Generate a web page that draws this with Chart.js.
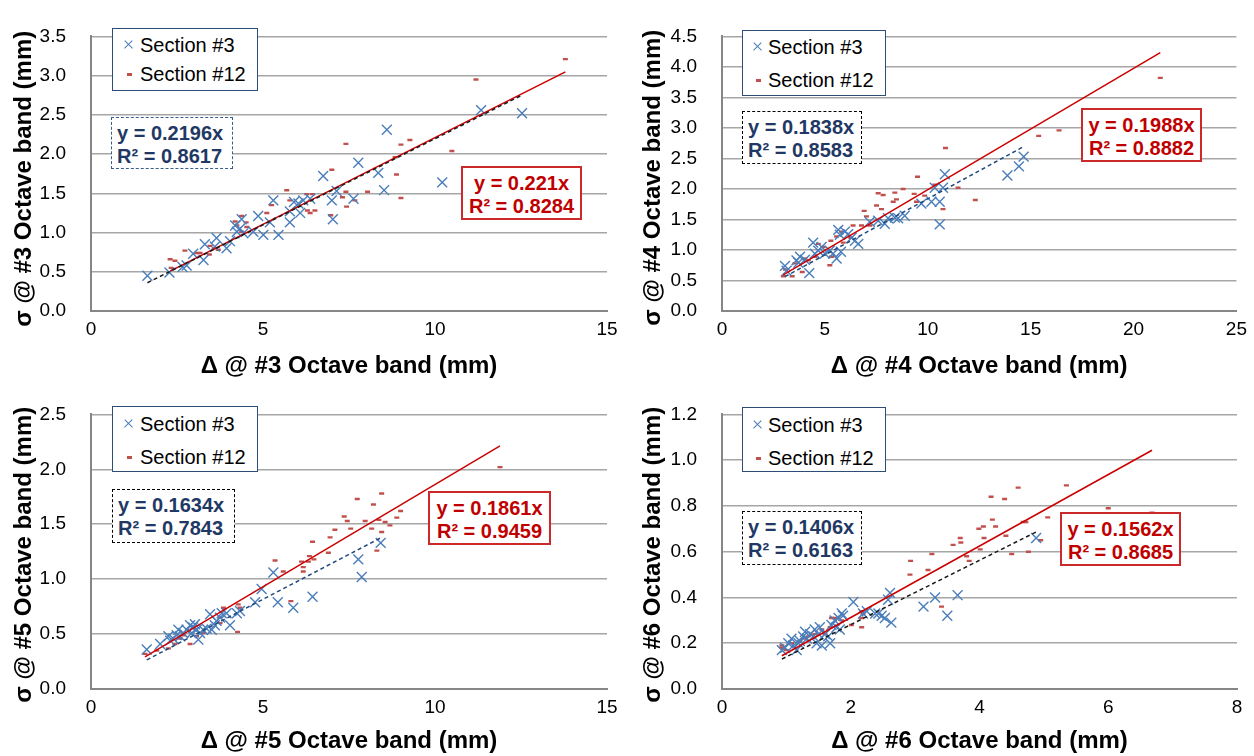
<!DOCTYPE html>
<html><head><meta charset="utf-8">
<script src="https://cdn.jsdelivr.net/npm/chart.js@4.4.1/dist/chart.umd.min.js"></script>
<style>
html,body{margin:0;padding:0;background:#fff}
body{width:1254px;height:756px;overflow:hidden;position:relative;font-family:"Liberation Sans",Arial,sans-serif}
canvas{position:absolute}
.leg{position:absolute;border:1.5px solid #2c4d75;background:#fff;box-sizing:border-box;z-index:5}
.leg .t{position:absolute;font-size:20px;line-height:22px;color:#000;white-space:nowrap}
.leg .cx{position:absolute;width:11px;height:1.4px;background:#4a7ebb}
.leg .dash{position:absolute;width:5px;height:2.5px;background:#c0504d}
.eq{position:absolute;box-sizing:border-box;font-weight:bold;font-size:20px;line-height:23px;white-space:nowrap;padding-top:4px;background:#fff;z-index:5}
.eq.b{border:1.5px dashed #000;color:#1f3864;padding-left:5px;text-align:left}
.eq.r{border:2px solid #cc2a2a;color:#c00000;text-align:center}
</style>
</head><body>
<canvas id="c0" width="627" height="378" style="left:0;top:0"></canvas>
<canvas id="c1" width="627" height="378" style="left:627px;top:0"></canvas>
<canvas id="c2" width="627" height="378" style="left:0;top:378px"></canvas>
<canvas id="c3" width="627" height="378" style="left:627px;top:378px"></canvas>
<script>
// ---------- data ----------
const bands = ['#3', '#4', '#5', '#6'];
const seriesNames = ['Section #3', 'Section #12'];

// Octave band #3
const b3s3X = [1.64,2.28,2.66,2.78,2.97,3.27,3.31,3.65,3.60,3.94,4.04,4.19,4.24,4.38,4.33,4.43,4.72,4.86,5.01,5.20,5.30,5.45,5.78,5.78,5.90,6.03,6.08,6.17,6.37,6.75,7.00,7.03,7.14,7.63,7.77,8.35,8.52,8.60,10.21,11.34,12.53];
const b3s3Y = [0.45,0.49,0.56,0.58,0.73,0.65,0.85,0.93,0.82,0.80,0.89,1.09,1.01,1.17,1.05,0.99,1.01,1.21,0.97,1.13,1.41,0.97,1.13,1.27,1.39,1.37,1.25,1.41,1.43,1.72,1.41,1.17,1.53,1.43,1.89,1.76,1.54,2.31,1.64,2.56,2.52];
const b3s12X = [2.30,2.44,2.33,2.73,3.07,3.17,3.46,3.44,3.58,3.70,4.19,4.24,4.38,4.51,4.53,4.38,5.11,5.25,5.69,5.78,6.27,6.29,6.51,6.37,6.44,7.00,6.97,7.41,7.41,7.31,7.43,7.67,8.04,8.84,8.88,9.01,9.27,9.01,10.49,11.63,11.19,13.79];
const b3s12Y = [0.66,0.64,0.55,0.77,0.74,0.74,0.83,0.72,0.80,0.78,1.14,1.09,1.21,1.13,1.07,1.01,1.25,1.35,1.54,1.41,1.49,1.28,1.28,1.25,1.49,1.80,1.22,2.13,1.52,1.45,1.33,1.41,1.52,1.96,1.74,2.12,2.18,1.44,2.04,1.82,2.95,3.21];

// Octave band #4
const b4s3X = [3.06,3.14,3.62,3.79,3.71,4.03,4.24,4.43,4.51,4.68,4.84,5.00,5.24,5.40,5.57,5.65,5.73,5.78,5.97,6.13,6.30,6.46,6.62,7.18,7.59,7.91,8.07,8.40,8.56,8.88,9.69,10.18,10.34,10.58,10.58,10.74,10.83,13.87,14.43,14.66];
const b4s3Y = [0.74,0.66,0.83,0.89,0.79,0.84,0.62,1.12,0.94,0.99,1.05,0.94,0.99,0.94,0.86,1.33,1.25,0.97,1.30,1.26,1.20,1.15,1.10,1.46,1.48,1.43,1.52,1.53,1.52,1.56,1.76,1.79,2.02,1.79,1.42,2.02,2.24,2.22,2.37,2.53];
const b4s12X = [2.98,3.09,3.41,3.54,3.90,4.03,4.19,4.51,4.68,4.92,5.24,5.29,5.32,5.57,5.81,5.89,6.26,6.37,6.78,6.91,7.02,7.18,7.51,7.59,7.75,7.83,8.32,8.40,8.48,8.80,9.34,9.45,9.50,9.85,10.34,10.74,10.86,11.47,12.31,15.39,16.38,21.30];
const b4s12Y = [0.57,0.68,0.57,0.78,0.64,0.86,0.83,0.89,1.10,1.05,0.75,1.15,0.89,1.22,1.30,1.12,1.20,1.40,1.40,1.64,1.55,1.40,1.73,1.93,1.67,1.90,1.79,1.94,1.83,2.00,1.92,1.79,2.20,1.89,2.07,1.67,2.67,2.02,1.82,2.87,2.96,3.82];

// Octave band #5
const b5s3X = [1.62,2.01,2.25,2.30,2.39,2.49,2.54,2.59,2.68,2.78,2.88,2.93,2.97,3.02,3.07,3.12,3.17,3.26,3.36,3.46,3.51,3.60,3.65,3.75,3.80,3.94,4.04,4.24,4.33,4.77,4.96,5.30,5.43,5.88,6.44,7.77,7.87,8.42];
const b5s3Y = [0.36,0.41,0.48,0.44,0.46,0.49,0.54,0.48,0.51,0.54,0.58,0.51,0.56,0.59,0.54,0.45,0.51,0.54,0.55,0.68,0.54,0.58,0.62,0.65,0.69,0.69,0.58,0.69,0.71,0.79,0.91,1.06,0.79,0.74,0.84,1.18,1.02,1.33];
const b5s12X = [1.57,1.91,2.25,2.44,2.59,2.68,2.88,3.07,3.26,3.75,3.85,3.75,4.28,4.33,4.26,5.35,5.59,5.81,6.12,6.17,6.17,6.35,6.44,6.48,6.32,6.90,6.95,7.09,7.36,7.45,7.55,7.74,7.97,8.16,8.21,8.37,8.45,8.45,8.31,8.55,8.69,8.89,9.00,11.89];
const b5s12Y = [0.32,0.35,0.37,0.41,0.46,0.49,0.41,0.48,0.51,0.65,0.74,0.60,0.77,0.74,0.52,1.17,1.07,0.80,1.16,1.11,1.07,1.21,1.34,1.18,1.16,1.24,1.38,1.45,1.57,1.53,1.46,1.73,1.53,1.46,1.68,1.54,1.78,1.43,1.26,1.52,1.49,1.56,1.62,2.02];

// Octave band #6
const b6s3X = [0.93,0.98,1.03,1.08,1.11,1.16,1.19,1.21,1.26,1.29,1.32,1.37,1.42,1.44,1.47,1.50,1.52,1.55,1.60,1.65,1.68,1.70,1.75,1.78,1.81,1.83,1.86,1.88,2.04,2.19,2.25,2.38,2.43,2.48,2.53,2.58,2.61,2.63,3.13,3.31,3.50,3.66,4.88];
const b6s3Y = [0.17,0.18,0.20,0.22,0.19,0.17,0.20,0.21,0.23,0.25,0.22,0.24,0.23,0.26,0.20,0.24,0.27,0.19,0.24,0.23,0.20,0.28,0.30,0.27,0.31,0.26,0.33,0.32,0.38,0.33,0.34,0.33,0.33,0.32,0.31,0.39,0.42,0.29,0.36,0.40,0.32,0.41,0.66];
const b6s12X = [0.93,0.93,1.00,1.08,1.21,1.26,1.34,1.44,1.55,1.60,1.68,1.70,1.75,1.86,2.01,2.17,2.17,2.17,2.19,2.93,2.92,3.20,3.26,3.41,3.59,3.70,3.71,3.80,3.84,3.99,4.06,4.07,4.01,4.18,4.20,4.25,4.39,4.41,4.50,4.60,4.68,4.72,4.76,4.95,5.06,5.35,6.00,6.68];
const b6s12Y = [0.19,0.18,0.17,0.20,0.21,0.22,0.23,0.24,0.26,0.24,0.27,0.31,0.31,0.30,0.28,0.34,0.31,0.27,0.33,0.56,0.50,0.52,0.59,0.36,0.63,0.66,0.64,0.58,0.56,0.70,0.71,0.66,0.61,0.84,0.74,0.71,0.83,0.67,0.59,0.88,0.73,0.73,0.60,0.65,0.75,0.89,0.79,0.77];

// trendline fits (y = k x) and R²
const slopeSec3  = [0.2196, 0.1838, 0.1634, 0.1406];
const r2Sec3     = ['0.8617', '0.8583', '0.7843', '0.6163'];
const slopeSec12 = [0.221, 0.1988, 0.1861, 0.1562];
const r2Sec12    = ['0.8284', '0.8882', '0.9459', '0.8685'];

// axis ranges / tick steps
const xMax  = [15, 25, 15, 8];
const xStep = [5, 5, 5, 2];
const yMax  = [3.5, 4.5, 2.5, 1.2];
const yStep = [0.5, 0.5, 0.5, 0.2];

// ---------- layout (styles, not data) ----------
const W = 627, H = 378;
const panels = [
  {id:'c0', ox:0,   oy:0,   left:91, right:607, top:18, bottom:311, xtPad:0, yTitleX:24, yTitleDy:5, trendColor:'#1a1a1a',
   leg:{x:112,y:28,w:146,h:63,mx:16,tx:27,r1:16,r2:45},
   eqB:{x:111,y:117,w:122,h:52,border:'#385d8a'}, eqR:{x:461,y:166,w:121,h:54},
   X:b3s3X, Y:b3s3Y, X2:b3s12X, Y2:b3s12Y},
  {id:'c1', ox:627, oy:0,   left:95, right:610, top:19, bottom:311, xtPad:0, yTitleX:26, yTitleDy:4, trendColor:'#1f497d',
   leg:{x:742,y:30,w:144,h:66,mx:15,tx:25,r1:16,r2:49},
   eqB:{x:742,y:111,w:120,h:53,border:'#000'}, eqR:{x:1081,y:108,w:121,h:54},
   X:b4s3X, Y:b4s3Y, X2:b4s12X, Y2:b4s12Y},
  {id:'c2', ox:0,   oy:378, left:91, right:607, top:20, bottom:311, xtPad:3, yTitleX:24, yTitleDy:3, trendColor:'#1f497d',
   leg:{x:112,y:406,w:146,h:66,mx:16,tx:27,r1:17,r2:50},
   eqB:{x:112,y:489,w:123,h:54,border:'#000'}, eqR:{x:428,y:491,w:123,h:54},
   X:b5s3X, Y:b5s3Y, X2:b5s12X, Y2:b5s12Y},
  {id:'c3', ox:627, oy:378, left:95, right:610, top:20, bottom:311, xtPad:3, yTitleX:26, yTitleDy:3, trendColor:'#1a1a1a',
   leg:{x:742,y:407,w:144,h:65,mx:15,tx:25,r1:17,r2:50},
   eqB:{x:742,y:511,w:120,h:54,border:'#000'}, eqR:{x:1060,y:512,w:121,h:54},
   X:b6s3X, Y:b6s3Y, X2:b6s12X, Y2:b6s12Y}
];

const FONT = '"Liberation Sans", Arial, Helvetica, sans-serif';
const pts = (xs, ys) => xs.map((x, i) => ({x: x, y: ys[i]}));
const trend = (xs, k) => {
  const a = Math.min(...xs), b = Math.max(...xs);
  return [{x: a, y: k * a}, {x: b, y: k * b}];
};

// draws the rotated y-axis title without width compression
const yTitlePlugin = {
  id: 'yTitleFree',
  afterDraw(chart, args, opts) {
    const s = chart.scales.y;
    const ctx = chart.ctx;
    ctx.save();
    ctx.translate(opts.x, (chart.chartArea.top + chart.chartArea.bottom) / 2 + opts.dy);
    ctx.rotate(-Math.PI / 2);
    ctx.font = 'bold 24px ' + FONT;
    ctx.fillStyle = '#000';
    ctx.textAlign = 'center';
    ctx.textBaseline = 'middle';
    ctx.fillText(s.options.title.text, 0, 0);
    ctx.restore();
  }
};

panels.forEach((p, i) => {
  new Chart(document.getElementById(p.id), {
    type: 'scatter',
    plugins: [yTitlePlugin],
    data: {datasets: [
      {label: 'trend ' + seriesNames[0], data: trend(p.X, slopeSec3[i]), showLine: true, pointRadius: 0,
       borderColor: p.trendColor, borderWidth: 1.5, borderDash: [4, 3], fill: false},
      {label: 'trend ' + seriesNames[1], data: trend(p.X2, slopeSec12[i]), showLine: true, pointRadius: 0,
       borderColor: '#cc0000', borderWidth: 1.5, fill: false},
      {label: seriesNames[0], data: pts(p.X, p.Y), pointStyle: 'crossRot', pointRadius: 7,
       borderColor: '#4a7ebb', backgroundColor: '#4a7ebb', pointBorderWidth: 1.4, showLine: false},
      {label: seriesNames[1], data: pts(p.X2, p.Y2), pointStyle: 'line', pointRadius: 2.5,
       borderColor: '#c0504d', backgroundColor: '#c0504d', pointBorderWidth: 2.4, showLine: false}
    ]},
    options: {
      responsive: false, animation: false, events: [],
      layout: {padding: {left: 0, top: p.top, right: W - p.right, bottom: 0}},
      plugins: {legend: {display: false}, tooltip: {enabled: false}, yTitleFree: {x: p.yTitleX, dy: p.yTitleDy}},
      scales: {
        x: {
          type: 'linear', min: 0, max: xMax[i],
          ticks: {stepSize: xStep[i], padding: 7, color: '#000', maxRotation: 0, font: {family: FONT, size: 19}},
          grid: {display: false, drawTicks: false},
          border: {display: true, color: '#868686', width: 2},
          title: {display: true, text: 'Δ @ ' + bands[i] + ' Octave band (mm)', color: '#000',
                  font: {family: FONT, size: 24, weight: 'bold', lineHeight: 1}, padding: {top: 0, bottom: p.xtPad}},
          afterFit: s => { s.height = H - p.bottom; }
        },
        y: {
          type: 'linear', min: 0, max: yMax[i],
          ticks: {stepSize: yStep[i], padding: 25, color: '#000', font: {family: FONT, size: 19},
                  callback: v => Number(v).toFixed(1)},
          grid: {color: '#a6a6a6', lineWidth: 1.5, drawTicks: false},
          border: {display: true, color: '#868686', width: 2},
          title: {display: false, text: 'σ @ ' + bands[i] + ' Octave band (mm)'},
          afterFit: s => { s.width = p.left; }
        }
      }
    }
  });

  // legend box
  const L = p.leg;
  const leg = document.createElement('div');
  leg.className = 'leg';
  Object.assign(leg.style, {left: L.x + 'px', top: L.y + 'px', width: L.w + 'px', height: L.h + 'px'});
  leg.innerHTML =
    `<div class="cx" style="left:${L.mx-6}px;top:${L.r1-1}px;transform:rotate(45deg)"></div>` +
    `<div class="cx" style="left:${L.mx-6}px;top:${L.r1-1}px;transform:rotate(-45deg)"></div>` +
    `<div class="t" style="left:${L.tx}px;top:${L.r1-11}px">${seriesNames[0]}</div>` +
    `<div class="dash" style="left:${L.mx-2}px;top:${L.r2-1}px"></div>` +
    `<div class="t" style="left:${L.tx}px;top:${L.r2-11}px">${seriesNames[1]}</div>`;
  document.body.appendChild(leg);

  // equation boxes
  const eb = document.createElement('div');
  eb.className = 'eq b';
  Object.assign(eb.style, {left: p.eqB.x + 'px', top: p.eqB.y + 'px', width: p.eqB.w + 'px', height: p.eqB.h + 'px', borderColor: p.eqB.border});
  eb.innerHTML = `y = ${slopeSec3[i]}x<br>R² = ${r2Sec3[i]}`;
  document.body.appendChild(eb);

  const er = document.createElement('div');
  er.className = 'eq r';
  Object.assign(er.style, {left: p.eqR.x + 'px', top: p.eqR.y + 'px', width: p.eqR.w + 'px', height: p.eqR.h + 'px'});
  er.innerHTML = `y = ${slopeSec12[i]}x<br>R² = ${r2Sec12[i]}`;
  document.body.appendChild(er);
});
</script>
</body></html>
